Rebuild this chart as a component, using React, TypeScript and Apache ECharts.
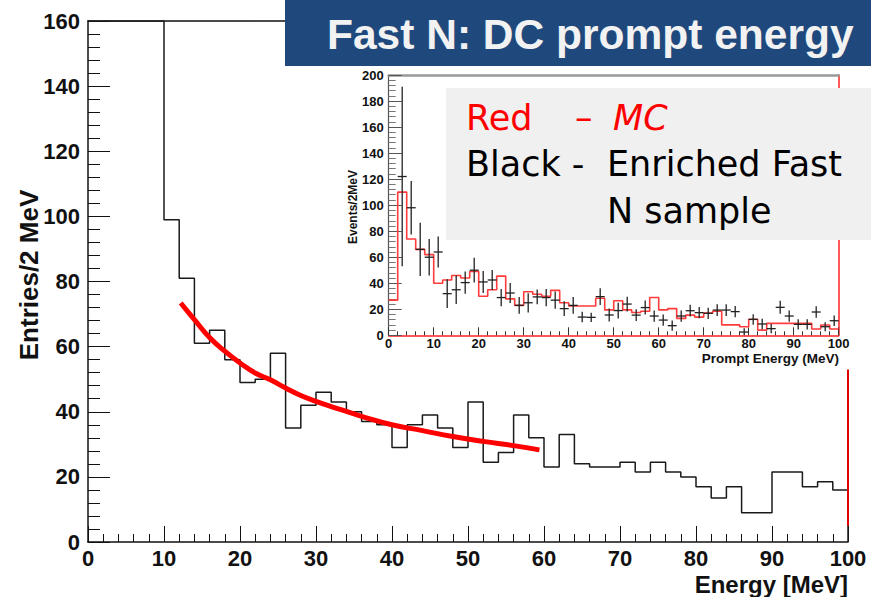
import React, { useEffect, useRef } from "react";
import * as echarts from "echarts";

// ---------- data ----------
const binEdges = [0, 2, 4, 6, 8, 10, 12, 14, 16, 18, 20, 22, 24, 26, 28, 30, 32, 34, 36, 38, 40, 42, 44, 46, 48, 50, 52, 54, 56, 58, 60, 62, 64, 66, 68, 70, 72, 74, 76, 78, 80, 82, 84, 86, 88, 90, 92, 94, 96, 98];
const xMax = 100;

// main histogram (Entries / 2 MeV); bins below 10 MeV are off scale (clipped at the frame top)
const mainCounts = [160, 160, 160, 160, 160, 99, 81, 61, 65, 56, 49, 50, 58, 35, 42, 46, 43, 40, 37, 36, 29, 36, 39, 35, 29, 43, 24.5, 27.5, 39, 32, 23, 33, 24, 23, 23, 24.5, 21.5, 24.5, 21.5, 20, 17, 13.5, 17, 9, 9, 21.5, 21.5, 17, 18.5, 16];

// red fit curve on the main plot
const fitEnergy = [12.2, 14, 16, 18, 20, 22, 24, 26, 28, 30, 32, 34, 36, 40, 44, 48, 52, 56, 59.4];
const fitValue = [73.4, 68.3, 62.8, 58.6, 55, 51.9, 49.8, 47.3, 45, 43.2, 41.6, 40.1, 38.6, 36, 34.2, 32.4, 30.9, 29.6, 28.3];

// inset: MC histogram (Events / 2 MeV)
const mcCounts = [27, 110, 74, 66, 62, 40, 42.5, 46, 44, 49, 30, 35, 45.5, 28, 23, 33.5, 31.5, 30, 34.5, 25, 22.5, 22.5, 22.5, 28.5, 19.5, 26.5, 19.5, 17.5, 18.5, 29, 19.5, 20.5, 13, 15.5, 14, 17, 18.5, 8, 8, 6.6, 12.3, 4, 9.2, 9.2, 9.2, 9.2, 9.2, 4.8, 7.9, 4.8];

// inset: enriched fast-N data points with error bars
const dataEnergy = [3, 5, 7, 9, 11, 13, 15, 17, 19, 21, 23, 25, 27, 29, 31, 33, 35, 37, 39, 41, 43, 45, 47, 49, 51, 53, 55, 57, 59, 61, 63, 65, 67, 69, 71, 73, 75, 77, 79, 81, 83, 85, 87, 89, 91, 93, 95, 97, 99];
const dataCounts = [122, 98, 66, 60, 64, 32, 35, 40.5, 50, 41, 42.5, 29, 32.5, 23, 25, 29.5, 29, 27, 20.5, 23, 14, 13.8, 29.7, 15.6, 19, 24, 15.5, 21.3, 14.8, 11.7, 7.4, 14.8, 18.9, 17.4, 16.9, 19.4, 19.4, 18.2, 2.5, 12.2, 8.7, 5.1, 21.5, 14.8, 8.4, 8.4, 17.9, 6.6, 11.2];
const dataErrors = [69, 20.5, 20.5, 14, 12, 11, 11, 8.5, 9.5, 8.5, 7.7, 6.6, 7.7, 6.4, 7.4, 5.7, 6.6, 6.6, 5.6, 6.5, 4, 3.5, 6.4, 5, 6, 5.7, 4.5, 5.4, 4.3, 4.3, 4, 4.3, 4.5, 4.3, 4.3, 4.5, 4.5, 4.3, 3, 4, 4, 3.5, 5, 4.3, 4, 4, 4.5, 3.5, 4];

// texts
const titleText = "Fast N: DC prompt energy";
const mainXTitle = "Energy [MeV]";
const mainYTitle = "Entries/2 MeV";
const insetXTitle = "Prompt Energy (MeV)";
const insetYTitle = "Events/2MeV";

const ARIAL = '"Liberation Sans", Arial, Helvetica, sans-serif';
const HAND = '"DejaVu Sans", "Noto Sans", sans-serif';

function stepPoints(edges: number[], values: number[], dropToZero: boolean) {
  const pts: number[][] = edges.map((e, i) => [e, values[i]]);
  pts.push([xMax, values[values.length - 1]]);
  if (dropToZero) pts.push([xMax, 0]);
  return pts;
}

export default function App() {
  const ref = useRef<HTMLDivElement>(null);

  useEffect(() => {
    document.body.style.margin = "0";
    if (!ref.current) return;
    const chart = echarts.init(ref.current, undefined, { renderer: "svg" });

    const crossData = dataEnergy.map((e, i) => [e, dataCounts[i], dataErrors[i]]);
    const legendStyle = (text: string, fill: string, italic: boolean) => ({
      text,
      verticalAlign: "middle",
      fill,
      lineHeight: 38,
      font: `${italic ? "italic " : ""}35px ${HAND}`,
    });

    const option: any = {
      animation: false,
      backgroundColor: "#ffffff",
      grid: [
        { left: 88, top: 21, width: 760, height: 521, containLabel: false },
        { left: 388.7, top: 75, width: 450, height: 260.3, containLabel: false },
      ],
      xAxis: [
        {
          gridIndex: 0, type: "value", min: 0, max: 100, interval: 10, position: "bottom",
          axisLine: { show: true, onZero: false, lineStyle: { color: "#111", width: 1.5 } },
          axisTick: { show: true, inside: true, length: 16, lineStyle: { color: "#111", width: 1 } },
          minorTick: { show: true, splitNumber: 5, length: 8, lineStyle: { color: "#111", width: 1 } },
          axisLabel: { color: "#111", fontFamily: ARIAL, fontWeight: "bold", fontSize: 22, lineHeight: 20, margin: 6 },
          splitLine: { show: false },
        },
        {
          gridIndex: 0, type: "value", min: 0, max: 100, position: "top",
          axisLine: { show: true, onZero: false, lineStyle: { color: "#111", width: 1.5 } },
          axisTick: { show: false }, axisLabel: { show: false }, splitLine: { show: false },
        },
        {
          gridIndex: 1, type: "value", min: 0, max: 100, interval: 10, position: "bottom",
          axisLine: { show: true, onZero: false, lineStyle: { color: "#ff2020", width: 1.5 } },
          axisTick: { show: true, inside: true, length: 8, lineStyle: { color: "#333", width: 1 } },
          minorTick: { show: true, splitNumber: 5, length: 4, lineStyle: { color: "#333", width: 1 } },
          axisLabel: { color: "#111", fontFamily: ARIAL, fontWeight: "bold", fontSize: 13, lineHeight: 12, margin: 2 },
          splitLine: { show: false },
        },
        {
          gridIndex: 1, type: "value", min: 0, max: 100, position: "top",
          axisLine: { show: true, onZero: false, lineStyle: { color: "#999", width: 2.5 } },
          axisTick: { show: false }, axisLabel: { show: false }, splitLine: { show: false },
        },
      ],
      yAxis: [
        {
          gridIndex: 0, type: "value", min: 0, max: 160, interval: 20, position: "left",
          axisLine: { show: true, onZero: false, lineStyle: { color: "#111", width: 1.5 } },
          axisTick: { show: true, inside: true, length: 22, lineStyle: { color: "#111", width: 1 } },
          minorTick: { show: true, splitNumber: 5, length: 12, lineStyle: { color: "#111", width: 1 } },
          axisLabel: { color: "#111", fontFamily: ARIAL, fontWeight: "bold", fontSize: 22, margin: 8 },
          splitLine: { show: false },
        },
        {
          gridIndex: 1, type: "value", min: 0, max: 200, interval: 20, position: "left",
          axisLine: { show: true, onZero: false, lineStyle: { color: "#555", width: 1.2 } },
          axisTick: { show: true, inside: true, length: 13, lineStyle: { color: "#555", width: 1 } },
          minorTick: { show: true, splitNumber: 5, length: 7, lineStyle: { color: "#777", width: 1 } },
          axisLabel: { color: "#111", fontFamily: ARIAL, fontWeight: "bold", fontSize: 13, margin: 5 },
          splitLine: { show: false },
        },
        {
          gridIndex: 1, type: "value", min: 0, max: 200, position: "right",
          axisLine: { show: true, onZero: false, lineStyle: { color: "#ff2020", width: 1.5 } },
          axisTick: { show: false }, axisLabel: { show: false }, splitLine: { show: false },
        },
      ],
      series: [
        {
          name: "main histogram", type: "line", xAxisIndex: 0, yAxisIndex: 0,
          data: stepPoints(binEdges, mainCounts, true), step: "end", symbol: "none",
          lineStyle: { color: "#1a1a1a", width: 1.5 }, z: 3,
          markLine: {
            silent: true, symbol: "none", label: { show: false },
            lineStyle: { color: "#e00000", width: 2, type: "solid" },
            data: [[{ coord: [100, 5] }, { coord: [100, 53] }]],
          },
        },
        {
          name: "fit", type: "line", xAxisIndex: 0, yAxisIndex: 0,
          data: fitEnergy.map((e, i) => [e, fitValue[i]]), smooth: true, symbol: "none",
          lineStyle: { color: "#ff0000", width: 5 }, z: 4,
        },
        {
          name: "MC", type: "line", xAxisIndex: 2, yAxisIndex: 1,
          data: stepPoints(binEdges, mcCounts, false), step: "end", symbol: "none",
          lineStyle: { color: "#ff3b3b", width: 1.6 }, z: 3,
        },
        {
          name: "data", type: "custom", xAxisIndex: 2, yAxisIndex: 1, z: 4,
          data: crossData,
          renderItem: (params: any, api: any) => {
            const x = api.value(0);
            const y = api.value(1);
            const e = api.value(2);
            const c = api.coord([x, y]);
            const l = api.coord([x - 1, y]);
            const r = api.coord([x + 1, y]);
            const t = api.coord([x, y + e]);
            const b = api.coord([x, Math.max(y - e, 0)]);
            const st = { stroke: "#222", lineWidth: 1.3 };
            return {
              type: "group",
              children: [
                { type: "line", shape: { x1: l[0], y1: c[1], x2: r[0], y2: c[1] }, style: st },
                { type: "line", shape: { x1: c[0], y1: t[1], x2: c[0], y2: b[1] }, style: st },
              ],
            };
          },
        },
      ],
      graphic: [
        // axis titles
        {
          type: "text", x: 29, y: 275, rotation: Math.PI / 2, z: 50,
          style: { text: mainYTitle, align: "center", verticalAlign: "middle", fill: "#111", font: `bold 26px ${ARIAL}` },
        },
        {
          type: "text", x: 848, y: 584, z: 50,
          style: { text: mainXTitle, align: "right", verticalAlign: "middle", lineHeight: 20, fill: "#111", font: `bold 24px ${ARIAL}` },
        },
        {
          type: "text", x: 352.5, y: 207, rotation: Math.PI / 2, z: 50,
          style: { text: insetYTitle, align: "center", verticalAlign: "middle", fill: "#111", font: `bold 12px ${ARIAL}` },
        },
        {
          type: "text", x: 839, y: 358.5, z: 50,
          style: { text: insetXTitle, align: "right", verticalAlign: "middle", lineHeight: 12, fill: "#111", font: `bold 13.5px ${ARIAL}` },
        },
        // title box
        { type: "rect", shape: { x: 285, y: 0, width: 586, height: 66 }, style: { fill: "#1f497d" }, z: 100 },
        {
          type: "text", x: 327, y: 34, z: 101,
          style: { text: titleText, align: "left", verticalAlign: "middle", fill: "#f2f2f2", font: `bold 42.5px ${ARIAL}` },
        },
        // legend box
        { type: "rect", shape: { x: 446, y: 88, width: 425, height: 152 }, style: { fill: "#f0f0f0" }, z: 100 },
        { type: "text", x: 466, y: 118, z: 101, style: legendStyle("Red", "#ff0000", false) },
        { type: "text", x: 575, y: 118, z: 101, style: legendStyle("–", "#ff0000", false) },
        { type: "text", x: 613, y: 118, z: 101, style: legendStyle("MC", "#ff0000", true) },
        { type: "text", x: 466, y: 164, z: 101, style: legendStyle("Black -", "#000000", false) },
        { type: "text", x: 607, y: 164, z: 101, style: legendStyle("Enriched Fast", "#000000", false) },
        { type: "text", x: 607, y: 211, z: 101, style: legendStyle("N sample", "#000000", false) },
      ],
    };

    chart.setOption(option);
    return () => chart.dispose();
  }, []);

  return <div ref={ref} style={{ width: 871, height: 597 }} />;
}
